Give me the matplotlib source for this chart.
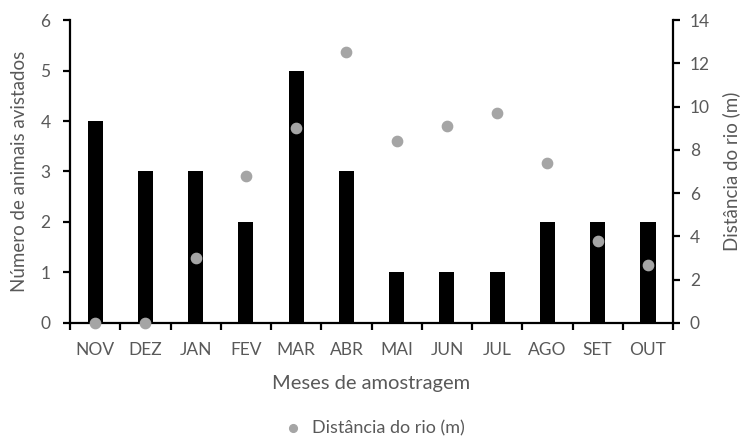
import numpy as np
import matplotlib.pyplot as plt

plt.rcParams['font.family'] = ['Lato', 'DejaVu Sans']

meses = ['NOV', 'DEZ', 'JAN', 'FEV', 'MAR', 'ABR', 'MAI', 'JUN', 'JUL', 'AGO', 'SET', 'OUT']
animais = [4, 3, 3, 2, 5, 3, 1, 1, 1, 2, 2, 2]
distancia = [0, 0, 3.0, 6.8, 9.0, 12.5, 8.4, 9.1, 9.7, 7.4, 3.8, 2.7]

cinza_txt = '#595959'
cinza_pt = '#A5A5A5'

fig = plt.figure(figsize=(7.4, 4.38), dpi=100)
ax = fig.add_axes([0.0946, 0.2626, 0.815, 0.6917])
x = np.arange(len(meses))

ax.bar(x, animais, width=0.3, color='black', zorder=2)
ax.set_xlim(-0.5, len(meses) - 0.5)
ax.set_ylim(0, 6)
ax.set_yticks(range(0, 7))
ax.set_xticks(x)
ax.set_xticklabels(meses)
ax.set_xticks(np.arange(-0.5, len(meses)), minor=True)
ax.tick_params(axis='x', which='major', length=0, pad=14, labelsize=12.5, labelcolor=cinza_txt)
ax.tick_params(axis='x', which='minor', length=5, width=1.6, color='black', direction='out')
ax.tick_params(axis='y', length=5, width=1.6, labelsize=12.5, labelcolor=cinza_txt, pad=9)
for s in ['top', 'right']:
    ax.spines[s].set_visible(False)
for s in ['left', 'bottom']:
    ax.spines[s].set_linewidth(1.6)
ax.set_xlabel('Meses de amostragem', fontsize=14.5, color=cinza_txt, labelpad=12)
ax.set_ylabel('Número de animais avistados', fontsize=13.5, color=cinza_txt, labelpad=9)

# segundo eixo: distância do rio
ax2 = ax.twinx()
pts = ax2.scatter(x, distancia, s=55, color=cinza_pt, zorder=3, clip_on=False,
                  label='Distância do rio (m)')
ax2.set_ylim(0, 14)
ax2.set_yticks(range(0, 15, 2))
ax2.tick_params(axis='y', length=5, width=1.6, labelsize=12.5, labelcolor=cinza_txt, pad=7)
for s in ['top', 'left', 'bottom']:
    ax2.spines[s].set_visible(False)
ax2.spines['right'].set_linewidth(1.6)
ax2.set_ylabel('Distância do rio (m)', fontsize=13.5, color=cinza_txt, labelpad=9)

fig.legend(handles=[pts], loc='center', bbox_to_anchor=(0.5, 0.023), frameon=False,
           fontsize=13, labelcolor=cinza_txt, handletextpad=0.05, markerscale=0.75)

fig.savefig('out.png', dpi=100)
